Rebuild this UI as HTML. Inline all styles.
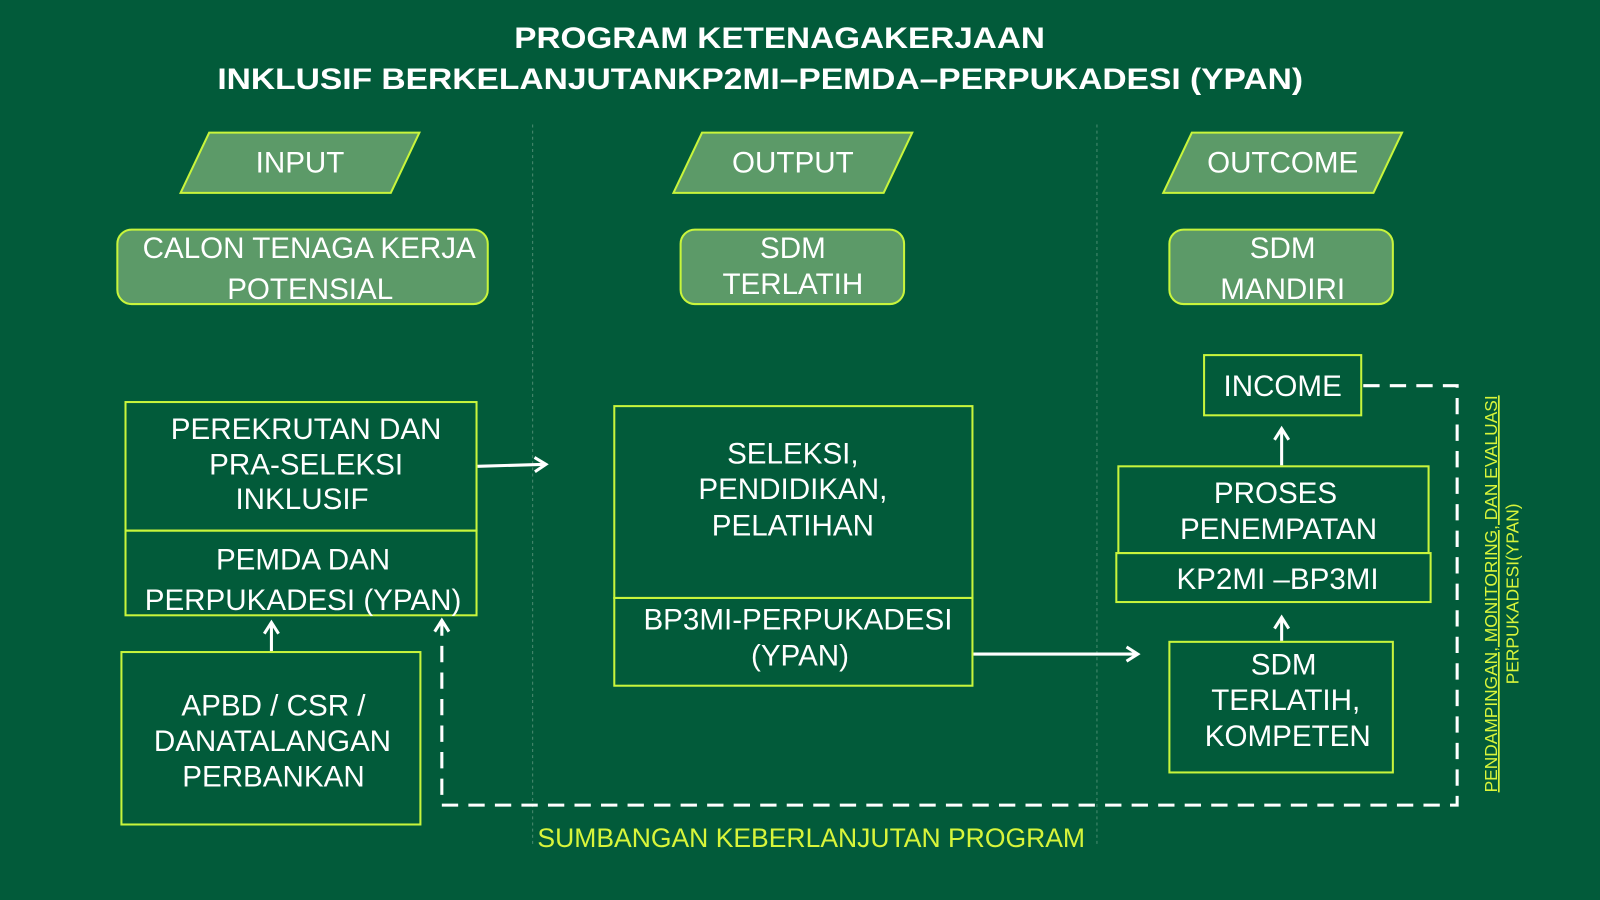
<!DOCTYPE html>
<html><head><meta charset="utf-8"><style>
html,body{margin:0;padding:0;background:#025b3a;}
svg{display:block}
text{font-family:"Liberation Sans",Arial,sans-serif;fill:#fff;text-anchor:middle}
</style></head><body>
<svg width="1600" height="900" viewBox="0 0 1568 882" preserveAspectRatio="none">
<defs>
<marker id="ah" markerWidth="18" markerHeight="18" refX="13" refY="9" orient="auto" markerUnits="userSpaceOnUse">
<path d="M2,2 L13,9 L2,16" fill="none" stroke="#fff" stroke-width="3"/>
</marker>
</defs>
<rect width="1568" height="882" fill="#025b3a"/>
<text x="764" y="47" font-size="29" font-weight="bold" textLength="520" lengthAdjust="spacingAndGlyphs">PROGRAM KETENAGAKERJAAN</text>
<text x="745" y="87" font-size="29" font-weight="bold" textLength="1064" lengthAdjust="spacingAndGlyphs">INKLUSIF BERKELANJUTANKP2MI–PEMDA–PERPUKADESI (YPAN)</text>

<line x1="522" y1="122" x2="522" y2="830" stroke="#4a8a70" stroke-width="1" stroke-dasharray="3,3"/>
<line x1="1075" y1="122" x2="1075" y2="830" stroke="#4a8a70" stroke-width="1" stroke-dasharray="3,3"/>

<g fill="#5c9a68" stroke="#c8f53c" stroke-width="2">
<polygon points="205,130 411,130 383,189 177,189"/>
<polygon points="688,130 894,130 866,189 660,189"/>
<polygon points="1168,130 1374,130 1346,189 1140,189"/>
<rect x="115" y="225" width="363" height="73" rx="14"/>
<rect x="667" y="225" width="219" height="73" rx="14"/>
<rect x="1146" y="225" width="219" height="73" rx="14"/>
</g>
<g font-size="29">
<text x="294" y="169">INPUT</text>
<text x="777" y="169">OUTPUT</text>
<text x="1257" y="169">OUTCOME</text>
<text x="303" y="253">CALON TENAGA KERJA</text>
<text x="304" y="293">POTENSIAL</text>
<text x="777" y="253">SDM</text>
<text x="777" y="288">TERLATIH</text>
<text x="1257" y="253">SDM</text>
<text x="1257" y="293">MANDIRI</text>
</g>

<g fill="none" stroke="#c8f53c" stroke-width="2">
<rect x="123" y="394" width="344" height="126"/>
<rect x="123" y="520" width="344" height="83"/>
<rect x="119" y="639" width="293" height="169"/>
<rect x="602" y="398" width="351" height="188"/>
<rect x="602" y="586" width="351" height="86"/>
<rect x="1180" y="348" width="154" height="59"/>
<rect x="1096" y="457" width="304" height="85"/>
<rect x="1094" y="542" width="308" height="48"/>
<rect x="1146" y="629" width="219" height="128"/>
</g>
<g font-size="29">
<text x="300" y="430">PEREKRUTAN DAN</text>
<text x="300" y="465">PRA-SELEKSI</text>
<text x="296" y="499">INKLUSIF</text>
<text x="297" y="558">PEMDA DAN</text>
<text x="297" y="598">PERPUKADESI (YPAN)</text>
<text x="268" y="701">APBD / CSR /</text>
<text x="267" y="736">DANATALANGAN</text>
<text x="268" y="771">PERBANKAN</text>
<text x="777" y="454">SELEKSI,</text>
<text x="777" y="489">PENDIDIKAN,</text>
<text x="777" y="525">PELATIHAN</text>
<text x="782" y="617">BP3MI-PERPUKADESI</text>
<text x="784" y="652">(YPAN)</text>
<text x="1257" y="388">INCOME</text>
<text x="1250" y="493">PROSES</text>
<text x="1253" y="528">PENEMPATAN</text>
<text x="1252" y="577">KP2MI –BP3MI</text>
<text x="1258" y="661">SDM</text>
<text x="1260" y="696">TERLATIH,</text>
<text x="1262" y="731">KOMPETEN</text>
</g>

<g stroke="#fff" stroke-width="3" fill="none">
<line x1="468" y1="457" x2="535" y2="455" marker-end="url(#ah)"/>
<line x1="266" y1="638" x2="266" y2="610" marker-end="url(#ah)"/>
<line x1="954" y1="641" x2="1115" y2="641" marker-end="url(#ah)"/>
<line x1="1256" y1="456" x2="1256" y2="420" marker-end="url(#ah)"/>
<line x1="1256" y1="628" x2="1256" y2="605" marker-end="url(#ah)"/>
<polyline points="1336,378 1428,378 1428,789 433,789 433,612" stroke-dasharray="16,10"/>
<line x1="433" y1="614" x2="433" y2="608" marker-end="url(#ah)"/>
</g>

<text x="795" y="830" font-size="26" style="fill:#d8f53a">SUMBANGAN KEBERLANJUTAN PROGRAM</text>
<g transform="translate(1467,582) rotate(-90)">
<text x="0" y="0" font-size="17" style="fill:#d8f53a" text-decoration="underline">PENDAMPINGAN, MONITORING, DAN EVALUASI</text>
<text x="0" y="21" font-size="17" style="fill:#d8f53a">PERPUKADESI(YPAN)</text>
</g>
</svg>
</body></html>
